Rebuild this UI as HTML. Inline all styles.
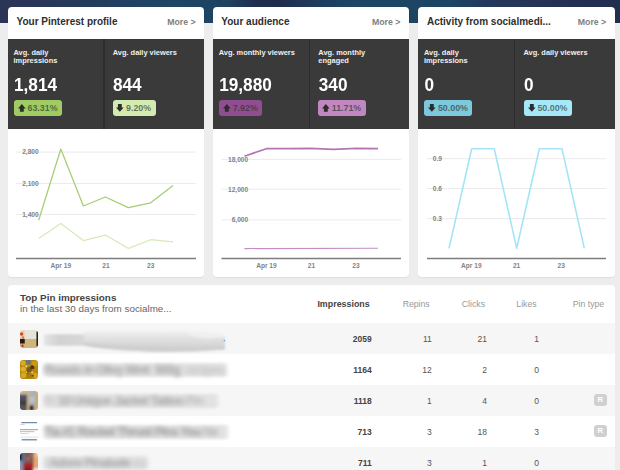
<!DOCTYPE html>
<html>
<head>
<meta charset="utf-8">
<title>Pinterest analytics</title>
<style>
html,body{margin:0;padding:0;}
body{width:620px;height:470px;overflow:hidden;background:#ededed;position:relative;font-family:"Liberation Sans",Arial,sans-serif;}
.band{position:absolute;left:0;top:0;width:620px;height:23.4px;background:linear-gradient(90deg,#2b3457 0%,#283758 8%,#223d5d 16%,#1e4463 24%,#1d4563 33%,#1f4260 37%,#202e4e 41%,#202c4c 45%,#1f3a5a 50%,#1d4664 57%,#1c4564 72%,#22395b 78%,#263458 84%,#233053 92%,#222e50 100%);}
.card{position:absolute;top:7px;width:196.4px;height:269.5px;background:#fff;border-radius:4px;box-shadow:0 1px 1px rgba(0,0,0,.06);overflow:hidden;}
.card h2{position:absolute;left:8.5px;top:8.9px;margin:0;font-size:10px;line-height:12px;font-weight:bold;color:#2e2e2e;white-space:nowrap;}
.card .more{position:absolute;right:8.8px;top:9.9px;font-size:8.75px;line-height:10px;font-weight:bold;color:#808080;}
.stats{position:absolute;left:0;top:32.4px;width:100%;height:89.3px;background:#3a3a3a;}
.stats .div{position:absolute;left:95.2px;top:0;width:1.5px;height:100%;background:#2d2d2d;}
.cell{position:absolute;top:0;height:100%;}
.cell .lbl{position:absolute;left:-0.5px;top:9.2px;font-size:7.45px;line-height:8.5px;font-weight:bold;color:#f0f0f0;white-space:nowrap;}
.cell .num{position:absolute;left:0;top:36.1px;transform:scaleY(1.035);font-size:17.2px;line-height:20px;font-weight:bold;color:#fff;white-space:nowrap;}
.badge{position:absolute;left:0;top:60.6px;height:16px;border-radius:3px;font-size:8.85px;line-height:16.4px;font-weight:bold;color:rgba(40,50,40,.66);white-space:nowrap;box-sizing:border-box;padding-left:13.5px;}
.badge svg{position:absolute;left:3.9px;top:4.2px;width:7.7px;height:7.9px;}
.chart{position:absolute;left:0;top:121px;width:196.5px;height:149px;}
.tbl{position:absolute;left:8px;top:285px;width:607px;height:200px;background:#fff;border-radius:4px 4px 0 0;overflow:hidden;}
.tbl .t1{position:absolute;left:12px;top:6.9px;font-size:9.9px;line-height:11px;font-weight:bold;color:#444;}
.tbl .t2{position:absolute;left:12px;top:17.6px;font-size:9.85px;line-height:11px;color:#666;}
.th{position:absolute;top:13.5px;font-size:8.7px;line-height:11px;color:#999;text-align:right;white-space:nowrap;}
.th.b{font-weight:bold;color:#444;font-size:8.9px;}
.row{position:absolute;left:0;width:100%;height:31px;}
.row.g{background:#f6f6f6;}
.row .c{position:absolute;top:11px;font-size:8.5px;line-height:11px;color:#555;text-align:right;white-space:nowrap;}
.row .c.b{font-weight:bold;color:#444;}
.thumb{position:absolute;left:11.8px;top:6.8px;width:18.3px;height:18.3px;border-radius:3.2px;overflow:hidden;}
.thumb svg{display:block;width:18.3px;height:18.3px;}
.blur{position:absolute;left:36px;top:9.5px;font-size:12.5px;letter-spacing:-0.75px;line-height:14px;font-weight:bold;color:#a4a4a4;white-space:nowrap;filter:url(#hb);}
.bband{position:absolute;left:35.5px;top:9.8px;height:13.8px;border-radius:3px;background:#e2e2e2;filter:url(#hb2);}
.smear{position:absolute;left:30px;top:0;width:200px;height:31px;}
.rb{position:absolute;left:586px;top:9.5px;width:12.5px;height:12px;border-radius:3px;background:#d0d0d0;color:#fff;font-size:7.6px;line-height:12px;font-weight:bold;text-align:center;}
</style>
</head>
<body>
<svg width="0" height="0" style="position:absolute"><defs><filter id="hb" x="-5%" y="-60%" width="110%" height="220%"><feGaussianBlur stdDeviation="2.8 1.9"/></filter><filter id="hb2" x="-5%" y="-60%" width="110%" height="220%"><feGaussianBlur stdDeviation="2.2 1.5"/></filter></defs></svg>
<div class="band"></div>

<!-- Card 1 -->
<div class="card" style="left:8px">
  <h2>Your Pinterest profile</h2><span class="more">More &gt;</span>
  <div class="stats">
    <div class="div"></div>
    <div class="cell" style="left:6px">
      <div class="lbl">Avg. daily<br>impressions</div>
      <div class="num">1,814</div>
      <div class="badge" style="width:48px;background:#9fcb62"><svg viewBox="0 0 10 10"><path d="M5 0 L10 5.6 L7.5 5.6 L7.5 10 L2.5 10 L2.5 5.6 L0 5.6 Z" fill="#2c2c2c"/></svg>63.31%</div>
    </div>
    <div class="cell" style="left:104.5px">
      <div class="lbl" style="left:0.2px">Avg. daily viewers</div>
      <div class="num" style="left:0.5px">844</div>
      <div class="badge" style="width:43.5px;background:#d3ebaf"><svg viewBox="0 0 10 10"><path d="M5 10 L10 4.4 L7.5 4.4 L7.5 0 L2.5 0 L2.5 4.4 L0 4.4 Z" fill="#2c2c2c"/></svg>9.20%</div>
    </div>
  </div>
  <svg class="chart" viewBox="0 0 196.5 149">
    <g stroke="#ebebeb" stroke-width="1">
      <line x1="8" x2="188" y1="24.1" y2="24.1"/><line x1="8" x2="188" y1="55.5" y2="55.5"/><line x1="8" x2="188" y1="86.5" y2="86.5"/>
    </g>
    <line x1="8" x2="188" y1="130.5" y2="130.5" stroke="#7d7d7d" stroke-width="1.3"/>
    <polyline fill="none" stroke="#d6e9b8" stroke-width="1.2" stroke-linejoin="round" points="30.7,110.4 52.8,95.5 75.4,112.6 97.4,107.1 120.4,120.4 142.7,111.7 165,113.9"/>
    <polyline fill="none" stroke="#a4ce70" stroke-width="1.25" stroke-linejoin="round" points="30.7,92.2 52.8,21 75.4,78 97.4,69 120.4,79.6 142.7,74.8 165,57.6"/>
    <g font-family="Liberation Sans, Arial, sans-serif" font-weight="bold" font-size="6.6" fill="#838383">
      <text x="30.7" y="26.4" text-anchor="end">2,800</text>
      <text x="30.7" y="57.8" text-anchor="end">2,100</text>
      <text x="30.7" y="88.8" text-anchor="end">1,400</text>
      <text x="52.8" y="139.6" text-anchor="middle">Apr 19</text>
      <text x="98" y="139.6" text-anchor="middle">21</text>
      <text x="142.7" y="139.6" text-anchor="middle">23</text>
    </g>
  </svg>
</div>

<!-- Card 2 -->
<div class="card" style="left:212.8px">
  <h2>Your audience</h2><span class="more">More &gt;</span>
  <div class="stats">
    <div class="div" style="left:96px"></div>
    <div class="cell" style="left:6.4px">
      <div class="lbl">Avg. monthly viewers</div>
      <div class="num">19,880</div>
      <div class="badge" style="width:43px;background:#914d91"><svg viewBox="0 0 10 10"><path d="M5 0 L10 5.6 L7.5 5.6 L7.5 10 L2.5 10 L2.5 5.6 L0 5.6 Z" fill="#2c2c2c"/></svg>7.92%</div>
    </div>
    <div class="cell" style="left:106px">
      <div class="lbl">Avg. monthly<br>engaged</div>
      <div class="num">340</div>
      <div class="badge" style="left:-0.6px;width:48px;background:#c187c1"><svg viewBox="0 0 10 10"><path d="M5 0 L10 5.6 L7.5 5.6 L7.5 10 L2.5 10 L2.5 5.6 L0 5.6 Z" fill="#2c2c2c"/></svg>11.71%</div>
    </div>
  </div>
  <svg class="chart" viewBox="0 0 196.5 149">
    <g stroke="#ebebeb" stroke-width="1">
      <line x1="8.5" x2="188" y1="31.4" y2="31.4"/><line x1="8.5" x2="188" y1="61.2" y2="61.2"/><line x1="8.5" x2="188" y1="91.9" y2="91.9"/>
    </g>
    <line x1="8.5" x2="188" y1="130.5" y2="130.5" stroke="#7d7d7d" stroke-width="1.3"/>
    <polyline fill="none" stroke="#c48ec4" stroke-width="1.1" points="31.4,120.6 165,120.3"/>
    <polyline fill="none" stroke="#b376b3" stroke-width="1.7" stroke-linejoin="round" points="31.4,28.2 53.4,20.7 75,20.7 97.7,20.4 120.4,21.4 143,20.4 165,20.7"/>
    <g font-family="Liberation Sans, Arial, sans-serif" font-weight="bold" font-size="6.6" fill="#838383">
      <text x="35.2" y="33.8" text-anchor="end">18,000</text>
      <text x="35.2" y="63.6" text-anchor="end">12,000</text>
      <text x="35.2" y="94.3" text-anchor="end">6,000</text>
      <text x="53.4" y="139.6" text-anchor="middle">Apr 19</text>
      <text x="98.4" y="139.6" text-anchor="middle">21</text>
      <text x="143" y="139.6" text-anchor="middle">23</text>
    </g>
  </svg>
</div>

<!-- Card 3 -->
<div class="card" style="left:418.45px;width:196.6px">
  <h2>Activity from socialmedi...</h2><span class="more">More &gt;</span>
  <div class="stats">
    <div class="div"></div>
    <div class="cell" style="left:6px">
      <div class="lbl">Avg. daily<br>impressions</div>
      <div class="num">0</div>
      <div class="badge" style="width:48px;background:#7cc8dc"><svg viewBox="0 0 10 10"><path d="M5 10 L10 4.4 L7.5 4.4 L7.5 0 L2.5 0 L2.5 4.4 L0 4.4 Z" fill="#2c2c2c"/></svg>50.00%</div>
    </div>
    <div class="cell" style="left:105.5px">
      <div class="lbl">Avg. daily viewers</div>
      <div class="num">0</div>
      <div class="badge" style="width:48px;background:#a5e8f8"><svg viewBox="0 0 10 10"><path d="M5 10 L10 4.4 L7.5 4.4 L7.5 0 L2.5 0 L2.5 4.4 L0 4.4 Z" fill="#2c2c2c"/></svg>50.00%</div>
    </div>
  </div>
  <svg class="chart" viewBox="0 0 196.5 149">
    <g stroke="#ebebeb" stroke-width="1">
      <line x1="9" x2="188" y1="30.7" y2="30.7"/><line x1="9" x2="188" y1="60.5" y2="60.5"/><line x1="9" x2="188" y1="90.6" y2="90.6"/>
    </g>
    <line x1="9" x2="188" y1="130.5" y2="130.5" stroke="#7d7d7d" stroke-width="1.3"/>
    <polyline fill="none" stroke="#a3e4f7" stroke-width="1.6" stroke-linejoin="round" points="31.0,120.4 53.7,20.7 76.3,20.7 98.7,120.4 121.3,20.7 144.0,20.7 166.3,120.4"/>
    <g font-family="Liberation Sans, Arial, sans-serif" font-weight="bold" font-size="6.6" fill="#838383">
      <text x="24" y="33.1" text-anchor="end">0.9</text>
      <text x="24" y="62.9" text-anchor="end">0.6</text>
      <text x="24" y="93" text-anchor="end">0.3</text>
      <text x="53.3" y="139.6" text-anchor="middle">Apr 19</text>
      <text x="98.6" y="139.6" text-anchor="middle">21</text>
      <text x="143.2" y="139.6" text-anchor="middle">23</text>
    </g>
  </svg>
</div>

<!-- Table -->
<div class="tbl">
  <div class="t1">Top Pin impressions</div>
  <div class="t2">in the last 30 days from socialme...</div>
  <div class="th b" style="right:245.3px">Impressions</div>
  <div class="th" style="right:185.3px">Repins</div>
  <div class="th" style="right:130px">Clicks</div>
  <div class="th" style="right:78.4px">Likes</div>
  <div class="th" style="right:10.8px">Pin type</div>

  <div class="row g" style="top:37.5px">
    <div class="thumb" style="top:7.3px;height:18px"><svg viewBox="0 0 18 18"><defs><filter id="b1" x="-10%" y="-10%" width="120%" height="120%"><feGaussianBlur stdDeviation="0.55"/></filter></defs><g filter="url(#b1)"><rect x="-2" y="-2" width="22" height="22" fill="#e4ddd0"/><rect x="-2" y="-2" width="6.7" height="11" fill="#ecd2b4"/><circle cx="1.6" cy="4" r="1.7" fill="#c6502a"/><circle cx="3" cy="7.3" r="1.2" fill="#d97a48"/><rect x="4.7" y="-2" width="11.5" height="10.8" fill="#e6e3db"/><rect x="4.7" y="8.8" width="13" height="11" fill="#cdb679"/><rect x="-2" y="8.8" width="6.7" height="4.7" fill="#2a1612"/><rect x="-2" y="13.5" width="6.7" height="6" fill="#e29868"/><circle cx="2.5" cy="15.5" r="0.9" fill="#5a3a5a"/><rect x="16.2" y="1.5" width="4" height="14.5" fill="#2e1c16"/></g></svg></div>
    <svg class="smear" viewBox="0 0 200 31"><defs><linearGradient id="sg" x1="0" y1="0" x2="0" y2="1"><stop offset="0" stop-color="#efefef"/><stop offset=".3" stop-color="#e3e3e3"/><stop offset=".6" stop-color="#d9d9d9"/><stop offset="1" stop-color="#cdcdcd"/></linearGradient><linearGradient id="sg2" x1="0" y1="0" x2="1" y2="0"><stop offset="0" stop-color="#e4e4e4"/><stop offset=".35" stop-color="#d2d2d2"/><stop offset="1" stop-color="#d8d8d8"/></linearGradient><filter id="sb" x="-5%" y="-30%" width="110%" height="160%"><feGaussianBlur stdDeviation="1.2"/></filter></defs><g filter="url(#sb)"><rect x="6" y="11.2" width="44" height="11.6" rx="2" fill="url(#sg2)"/><path d="M46 8.2 L150 8.6 Q178 9.4 187 12 L187 26.5 Q150 29.5 110 28.5 Q70 27 46 22.8 Z" fill="url(#sg)"/><path d="M46 19.5 Q100 25 187 23.5 L187 26.5 Q150 29.5 110 28.5 Q70 27 46 22.8 Z" fill="#cfcfcf"/><path d="M150 12 Q165 17 187 14 L187 12 Q178 9.4 150 8.6 Z" fill="#f0f0f0"/></g><circle cx="186.4" cy="17.6" r="0.9" fill="#6fb0e6"/></svg>
    <div class="c b" style="right:243.3px">2059</div><div class="c" style="right:183.3px">11</div><div class="c" style="right:128px">21</div><div class="c" style="right:76.1px">1</div>
  </div>
  <div class="row" style="top:68.5px">
    <div class="thumb"><svg viewBox="0 0 18 18"><defs><filter id="b2" x="-10%" y="-10%" width="120%" height="120%"><feGaussianBlur stdDeviation="0.5"/></filter></defs><g filter="url(#b2)"><rect x="-2" y="-2" width="22" height="22" fill="#b8860c"/><circle cx="3" cy="3" r="2.6" fill="#d8aa24"/><circle cx="14.5" cy="3.5" r="2.8" fill="#c99a18"/><circle cx="3.2" cy="9" r="2.6" fill="#dcb02c"/><circle cx="9" cy="9.5" r="2.6" fill="#7a5a12"/><circle cx="15" cy="9.5" r="2.7" fill="#b8860e"/><circle cx="3.4" cy="15" r="2.7" fill="#d6a820"/><circle cx="9.2" cy="15.3" r="2.7" fill="#a87c0c"/><circle cx="15" cy="15.2" r="2.7" fill="#d4a41c"/><rect x="6" y="0" width="4.5" height="4.5" fill="#6d7478"/><rect x="10" y="6" width="4" height="3" fill="#5a3a18"/><circle cx="12" cy="6.5" r="1.3" fill="#4a3210"/><circle cx="7" cy="12.5" r="1.2" fill="#6a4a10"/><circle cx="12.5" cy="15.5" r="1.1" fill="#6a4a10"/><circle cx="6.2" cy="6.2" r="1" fill="#f3dc7a"/><circle cx="12" cy="12.4" r="1" fill="#f0d468"/><circle cx="6.3" cy="12.2" r="0.9" fill="#f0d468"/></g></svg></div>
    <div class="bband" style="width:183px"></div>
    <div class="blur">Roasts in Olivy Mmt &nbsp;500g &nbsp;<span style="opacity:.45">recipes</span></div>
    <div class="c b" style="right:243.3px">1164</div><div class="c" style="right:183.3px">12</div><div class="c" style="right:128px">2</div><div class="c" style="right:76.1px">0</div>
  </div>
  <div class="row g" style="top:99.5px">
    <div class="thumb"><svg viewBox="0 0 18 18"><defs><filter id="b3" x="-10%" y="-10%" width="120%" height="120%"><feGaussianBlur stdDeviation="0.8"/></filter></defs><g filter="url(#b3)"><rect x="-2" y="-2" width="22" height="22" fill="#c9b48e"/><rect x="-2" y="3.5" width="9" height="17" fill="#55555f"/><rect x="1.8" y="4.5" width="2.6" height="3" fill="#4b4180"/><rect x="0" y="9" width="6.5" height="5" fill="#3c3c44"/><rect x="-2" y="-2" width="9" height="5" fill="#c8b79a"/><rect x="8.7" y="0.5" width="6.5" height="14" fill="#a9b1b9"/><rect x="10" y="5" width="4" height="6" fill="#b9c3cf"/><rect x="9.4" y="14.3" width="4" height="5" fill="#17131a"/><rect x="15.3" y="-2" width="5" height="22" fill="#c8aa74"/><rect x="7" y="-2" width="1.8" height="22" fill="#cdb07c"/></g></svg></div>
    <div class="bband" style="width:174px"></div>
    <div class="blur"><span style="opacity:.5">Fr</span> 10 Unique Jacket Tattoo<span style="opacity:.6"> Pin</span></div>
    <div class="c b" style="right:243.3px">1118</div><div class="c" style="right:183.3px">1</div><div class="c" style="right:128px">4</div><div class="c" style="right:76.1px">0</div>
    <div class="rb">R</div>
  </div>
  <div class="row" style="top:130.5px">
    <div class="thumb" style="border-radius:0"><svg viewBox="0 0 18 18"><defs><filter id="b4" x="-10%" y="-10%" width="120%" height="120%"><feGaussianBlur stdDeviation="0.4"/></filter></defs><g filter="url(#b4)"><rect x="1.3" y="0.1" width="15.4" height="1.1" fill="#5f7ea3"/><rect x="1.6" y="16.9" width="15" height="1.2" fill="#5f7ea3"/><rect x="0.3" y="2.3" width="4.4" height="0.6" fill="#bbb"/><rect x="0" y="7.25" width="18" height="0.75" fill="#7c7c7c"/><rect x="0" y="9.25" width="14.2" height="0.7" fill="#a0a0a0"/><rect x="0" y="11.25" width="8.8" height="0.6" fill="#bdbdbd"/><rect x="0.3" y="14" width="17.4" height="1.9" fill="#eee"/></g></svg></div>
    <div class="bband" style="width:184px"></div>
    <div class="blur" style="color:#969696">Tia #1 Rocket Thrust Pins You <span style="opacity:.6">Ne</span></div>
    <div class="c b" style="right:243.3px">713</div><div class="c" style="right:183.3px">3</div><div class="c" style="right:128px">18</div><div class="c" style="right:76.1px">3</div>
    <div class="rb">R</div>
  </div>
  <div class="row g" style="top:161.5px">
    <div class="thumb"><svg viewBox="0 0 18 18"><defs><filter id="b5" x="-10%" y="-10%" width="120%" height="120%"><feGaussianBlur stdDeviation="0.8"/></filter></defs><g filter="url(#b5)"><rect x="-2" y="-2" width="22" height="22" fill="#8c5c58"/><rect x="-2" y="-2" width="4" height="9.5" fill="#0e0a0c"/><rect x="-2" y="7.5" width="4.6" height="13" fill="#8b95b2"/><rect x="2" y="-2" width="2.8" height="12" fill="#5f7392"/><rect x="4.8" y="-2" width="8.4" height="12" fill="#7c5a50"/><rect x="6" y="4.5" width="3" height="3" fill="#b0546a"/><circle cx="8.6" cy="5.2" r="0.8" fill="#f08a2a"/><rect x="5" y="0" width="3" height="2.5" fill="#5a6a4a"/><rect x="9.5" y="1" width="3" height="3" fill="#9a6a7a"/><rect x="4" y="10" width="9.2" height="10" fill="#a7232a"/><rect x="5" y="14.5" width="6" height="5" fill="#7a1c2a"/><rect x="13.2" y="-2" width="7" height="17" fill="#e8a472"/><circle cx="16.5" cy="2.5" r="1.8" fill="#f2d27a"/><rect x="13.2" y="15" width="7" height="5" fill="#f3f3f3"/></g></svg></div>
    <div class="bband" style="width:104px"></div>
    <div class="blur"><span style="opacity:.4">I</span> Adore Pinalude <span style="opacity:.4">xo</span></div>
    <div class="c b" style="right:243.3px">711</div><div class="c" style="right:183.3px">3</div><div class="c" style="right:128px">1</div><div class="c" style="right:76.1px">0</div>
  </div>
</div>
</body>
</html>
